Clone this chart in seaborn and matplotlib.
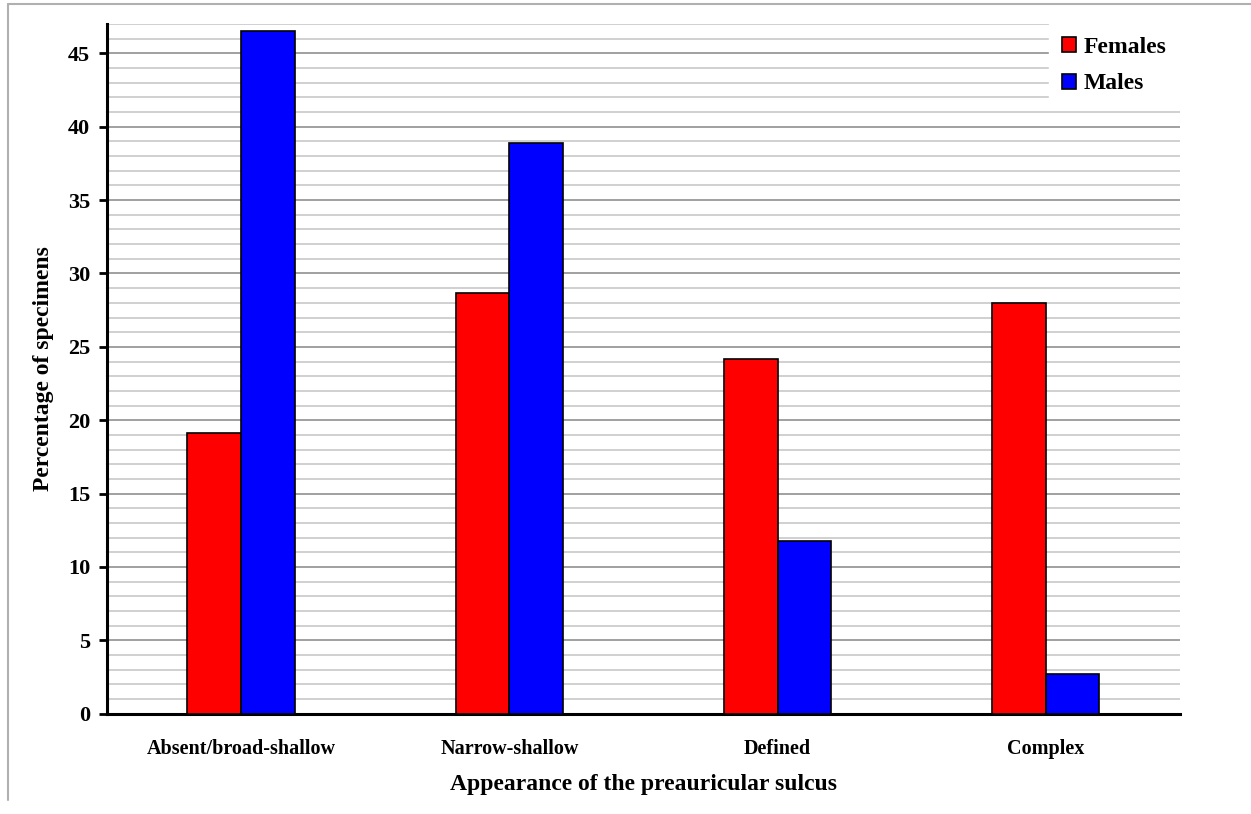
import pandas as pd
import matplotlib.pyplot as plt
from matplotlib.lines import Line2D
from matplotlib.ticker import MultipleLocator
import seaborn as sns

categories = ['Absent/broad-shallow', 'Narrow-shallow', 'Defined', 'Complex']
females = [19.1, 28.7, 24.2, 28.0]
males = [46.5, 38.9, 11.8, 2.7]

df = pd.DataFrame({
    'Category': categories * 2,
    'Sex': ['Females'] * 4 + ['Males'] * 4,
    'Percent': females + males,
})

sns.set_style('white')
plt.rcParams['font.family'] = ['Liberation Serif', 'DejaVu Serif']
plt.rcParams['font.weight'] = 'bold'
plt.rcParams['text.color'] = 'black'
plt.rcParams['axes.labelcolor'] = 'black'
plt.rcParams['xtick.color'] = 'black'
plt.rcParams['ytick.color'] = 'black'

fig = plt.figure(figsize=(12.51, 8.14), dpi=100)
ax = fig.add_axes([0.0855, 0.1232, 0.8577, 0.8473])

sns.barplot(data=df, x='Category', y='Percent', hue='Sex', order=categories,
            palette={'Females': '#ff0000', 'Males': '#0000ff'}, saturation=1,
            width=0.4, edgecolor='black', linewidth=1.2, ax=ax, zorder=3)

ax.set_ylim(0, 47)
ax.set_xlim(-0.5, 3.5)
ax.yaxis.set_major_locator(MultipleLocator(5))
ax.yaxis.set_minor_locator(MultipleLocator(1))
ax.grid(which='major', axis='y', color='#909090', linewidth=1.2, zorder=0)
ax.grid(which='minor', axis='y', color='#c8c8c8', linewidth=1.2, zorder=0)
ax.set_axisbelow(True)

for s in ['top', 'right']:
    ax.spines[s].set_visible(False)
for s in ['left', 'bottom']:
    ax.spines[s].set_color('black')
    ax.spines[s].set_linewidth(2.2)

ax.tick_params(axis='y', which='major', length=6, width=2, direction='out',
               left=True, labelsize=16, pad=6)
ax.tick_params(axis='y', which='minor', length=0)
ax.tick_params(axis='x', length=0, labelsize=14.5, pad=18)
for lab in ax.get_xticklabels() + ax.get_yticklabels():
    lab.set_fontweight('bold')

ax.set_xlabel('Appearance of the preauricular sulcus', fontsize=17,
              fontweight='bold', labelpad=11)
ax.set_ylabel('Percentage of specimens', fontsize=17, fontweight='bold',
              labelpad=10)

leg = ax.legend(loc='upper right', frameon=True, fancybox=False,
                borderaxespad=0, fontsize=17, handlelength=0.6,
                handleheight=0.6, handletextpad=0.35, labelspacing=0.65,
                borderpad=0.55)
leg.get_frame().set_edgecolor('white')
leg.get_frame().set_facecolor('white')
leg.get_frame().set_alpha(1)
leg.set_zorder(5)
for t in leg.get_texts():
    t.set_fontweight('bold')

# outer frame lines as in the original
fig.add_artist(Line2D([8 / 1251, 1], [1 - 4 / 814, 1 - 4 / 814],
                      color='#b0b0b0', linewidth=1.5))
fig.add_artist(Line2D([8 / 1251, 8 / 1251], [1 - 4 / 814, 1 - 800 / 814],
                      color='#b0b0b0', linewidth=1.5))

fig.savefig('out.png', dpi=100)
